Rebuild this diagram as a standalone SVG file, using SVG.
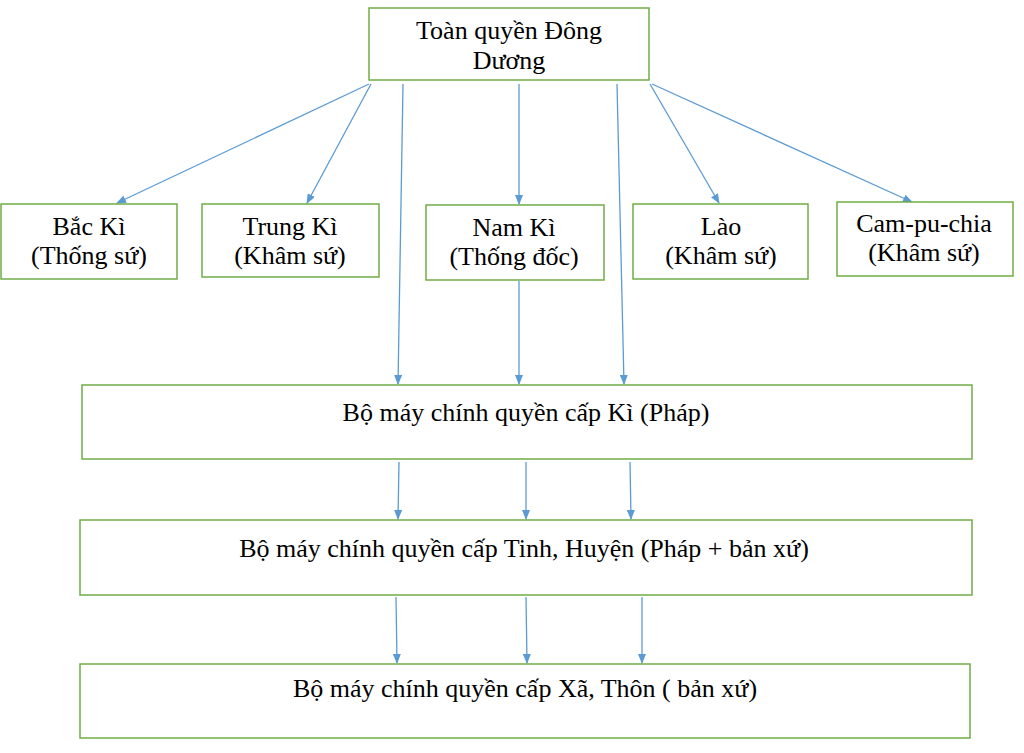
<svg xmlns="http://www.w3.org/2000/svg" width="1024" height="753" viewBox="0 0 1024 753">
<defs>
<marker id="ah" markerWidth="10" markerHeight="8" refX="9" refY="4" orient="auto" markerUnits="userSpaceOnUse">
<path d="M0,0 L10,4 L0,8 Z" fill="#5b9bd5"/>
</marker>
<style>
.box{fill:#fff;stroke:#70ad47;stroke-width:1.5}
.t{font-size:26px;fill:#000;text-anchor:middle}
.c{stroke:#5b9bd5;stroke-width:1.3;fill:none;marker-end:url(#ah)}
</style>
</defs>
<rect width="1024" height="753" fill="#fff"/>
<g id="connectors">
<line class="c" x1="369" y1="84" x2="117" y2="203"/>
<line class="c" x1="371" y1="84" x2="307" y2="203"/>
<line class="c" x1="403" y1="84" x2="398" y2="384"/>
<line class="c" x1="519" y1="84" x2="519" y2="204"/>
<line class="c" x1="617" y1="84" x2="624" y2="384"/>
<line class="c" x1="650" y1="84" x2="719" y2="203"/>
<line class="c" x1="652" y1="84" x2="912" y2="202"/>
<line class="c" x1="519" y1="281" x2="519" y2="384"/>
<line class="c" x1="399" y1="462" x2="398" y2="519"/>
<line class="c" x1="526" y1="462" x2="526" y2="519"/>
<line class="c" x1="630" y1="462" x2="631" y2="519"/>
<line class="c" x1="396" y1="597" x2="397" y2="663"/>
<line class="c" x1="526" y1="597" x2="527" y2="663"/>
<line class="c" x1="642" y1="597" x2="642" y2="663"/>
</g>
<g font-family="'Liberation Serif', 'DejaVu Serif', serif">
<g id="toan-quyen">
<rect class="box" x="369" y="8" width="280" height="72"/>
<text class="t" x="509" y="39">Toàn quyền Đông</text>
<text class="t" x="509" y="69">Dương</text>
</g>
<g id="bac-ki">
<rect class="box" x="1" y="204" width="176" height="75"/>
<text class="t" x="89" y="235">Bắc Kì</text>
<text class="t" x="89" y="264">(Thống sứ)</text>
</g>
<g id="trung-ki">
<rect class="box" x="202" y="204" width="177" height="73"/>
<text class="t" x="290" y="235">Trung Kì</text>
<text class="t" x="290" y="264">(Khâm sứ)</text>
</g>
<g id="nam-ki">
<rect class="box" x="426" y="205" width="178" height="75"/>
<text class="t" x="514" y="236">Nam Kì</text>
<text class="t" x="514" y="265">(Thống đốc)</text>
</g>
<g id="lao">
<rect class="box" x="633" y="204" width="175" height="75"/>
<text class="t" x="721" y="235">Lào</text>
<text class="t" x="721" y="264">(Khâm sứ)</text>
</g>
<g id="cam-pu-chia">
<rect class="box" x="837" y="202" width="176" height="74"/>
<text class="t" x="924" y="232">Cam-pu-chia</text>
<text class="t" x="924" y="261">(Khâm sứ)</text>
</g>
<g id="cap-ki">
<rect class="box" x="82" y="385" width="890" height="74"/>
<text class="t" x="526" y="421">Bộ máy chính quyền cấp Kì (Pháp)</text>
</g>
<g id="cap-tinh">
<rect class="box" x="80" y="520" width="892" height="75"/>
<text class="t" x="524" y="557">Bộ máy chính quyền cấp Tinh, Huyện (Pháp + bản xứ)</text>
</g>
<g id="cap-xa">
<rect class="box" x="80" y="664" width="890" height="74"/>
<text class="t" x="525" y="697">Bộ máy chính quyền cấp Xã, Thôn ( bản xứ)</text>
</g>
</g>
</svg>
